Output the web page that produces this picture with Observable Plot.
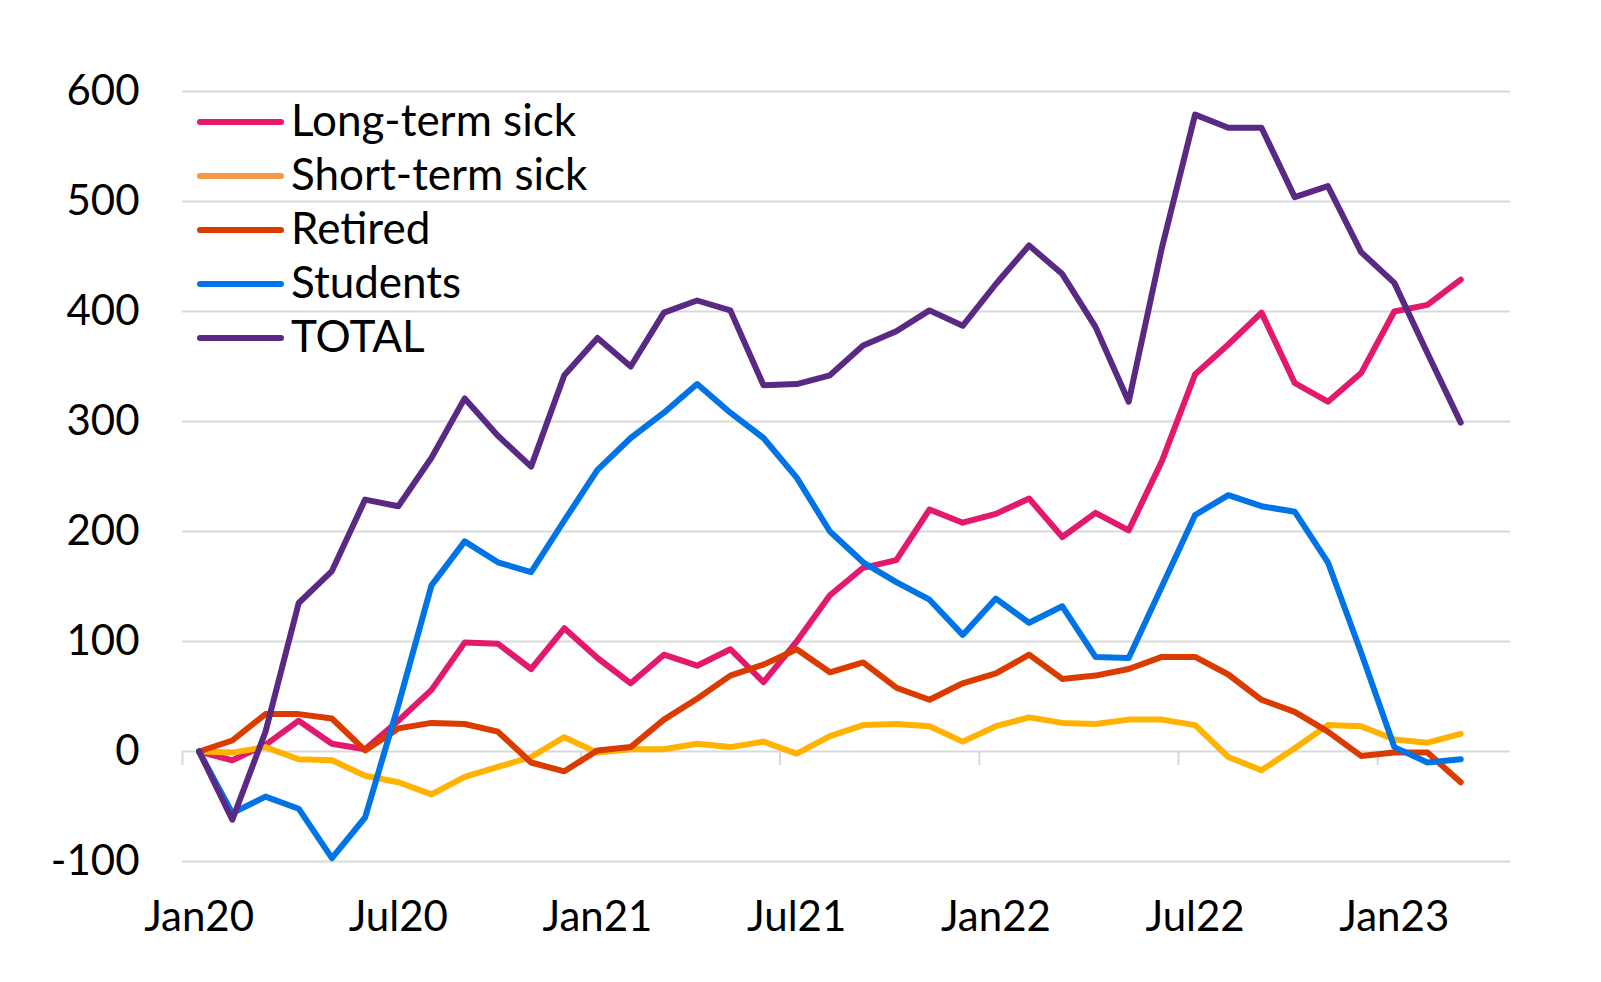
<!DOCTYPE html>
<html>
<head>
<meta charset="utf-8">
<script src="https://cdn.jsdelivr.net/npm/d3@7"></script>
<script src="https://cdn.jsdelivr.net/npm/@observablehq/plot@0.6"></script>
<style>
  body { margin: 0; background: #fff; }
  #wrap { position: relative; width: 1601px; height: 982px; font-family: Lato, "Open Sans", sans-serif; }
  #legend { position: absolute; left: 197px; top: 95px; }
  .item { display: flex; align-items: center; height: 54px; }
  .sw { width: 87px; height: 6px; border-radius: 3px; }
  .lbl { margin-left: 7px; font-size: 44px; color: #000; line-height: 1; position: relative; top: -3px; }
</style>
</head>
<body>
<div id="wrap"><div id="legend"></div></div>
<script>
// Categories (monthly, Jan20 .. Mar23)
const months = [
  "Jan20","Feb20","Mar20","Apr20","May20","Jun20","Jul20","Aug20","Sep20","Oct20","Nov20","Dec20",
  "Jan21","Feb21","Mar21","Apr21","May21","Jun21","Jul21","Aug21","Sep21","Oct21","Nov21","Dec21",
  "Jan22","Feb22","Mar22","Apr22","May22","Jun22","Jul22","Aug22","Sep22","Oct22","Nov22","Dec22",
  "Jan23","Feb23","Mar23"
];
const tickLabels = ["Jan20","Jul20","Jan21","Jul21","Jan22","Jul22","Jan23"];
const yTicks = [-100, 0, 100, 200, 300, 400, 500, 600];

const seriesNames = ["Long-term sick", "Short-term sick", "Retired", "Students", "TOTAL"];
const lineColors = ["#e2196c", "#ffb300", "#da3c00", "#0073e6", "#5a2983"];
const legendColors = ["#e2196c", "#f79646", "#da3c00", "#0073e6", "#5a2983"];

const longTermSick = [0, -8, 6, 28, 7, 2, 28, 56, 99, 98, 75, 112, 85, 62, 88, 78, 93, 63, 100, 142, 167, 174, 220, 208, 216, 230, 195, 217, 201, 264, 343, 370, 399, 335, 318, 344, 400, 406, 429];
const shortTermSick = [0, -1, 4, -7, -8, -22, -28, -39, -23, -14, -5, 13, -1, 2, 2, 7, 4, 9, -2, 14, 24, 25, 23, 9, 23, 31, 26, 25, 29, 29, 24, -5, -17, 3, 24, 23, 11, 8, 16];
const retired = [0, 10, 34, 34, 30, 1, 21, 26, 25, 18, -10, -18, 1, 4, 29, 48, 69, 79, 93, 72, 81, 58, 47, 62, 71, 88, 66, 69, 75, 86, 86, 70, 47, 36, 18, -4, -1, -1, -28];
const students = [0, -56, -41, -52, -97, -60, 42, 151, 191, 172, 163, 210, 256, 285, 308, 334, 308, 285, 249, 200, 172, 154, 138, 106, 139, 117, 132, 86, 85, 150, 215, 233, 223, 218, 172, 90, 4, -10, -7];
const total = [0, -62, 18, 135, 164, 229, 223, 267, 321, 287, 259, 342, 376, 350, 399, 410, 401, 333, 334, 342, 369, 382, 401, 387, 425, 460, 434, 386, 318, 458, 579, 567, 567, 504, 514, 454, 426, 362, 299];

const seriesValues = [longTermSick, shortTermSick, retired, students, total];
const rows = seriesValues.flatMap((vals, s) => vals.map((v, i) => ({i, month: months[i], series: seriesNames[s], value: v})));

const tickPositions = tickLabels.map(l => months.indexOf(l));
const tickMarks = tickPositions.map(p => p - 0.5);

const chart = Plot.plot({
  width: 1601,
  height: 982,
  marginLeft: 182,
  marginRight: 91,
  marginTop: 91,
  marginBottom: 121,
  style: {fontFamily: "Lato, 'Open Sans', sans-serif", fontSize: "42px", color: "#000", background: "#fff"},
  x: {type: "linear", domain: [-0.5, months.length + 0.5]},
  y: {domain: [-100, 600]},
  color: {domain: seriesNames, range: lineColors},
  marks: [
    Plot.gridY(yTicks, {stroke: "#d9d9d9", strokeOpacity: 1, strokeWidth: 2}),
    Plot.ruleX(tickMarks, {x: d => d, y1: 0, y2: 0, insetBottom: -14, stroke: "#d9d9d9", strokeWidth: 2}),
    Plot.axisY(yTicks, {tickSize: 0, tickPadding: 43, label: null, fill: "#000", tickFormat: d => String(d)}),
    Plot.axisX(tickPositions, {tickSize: 0, tickPadding: 40, label: null, fill: "#000", tickFormat: d => months[d]}),
    Plot.line(rows, {x: "i", y: "value", z: "series", stroke: "series", strokeWidth: 6, strokeLinejoin: "round", strokeLinecap: "round"})
  ]
});
document.getElementById("wrap").appendChild(chart);

const legend = document.getElementById("legend");
seriesNames.forEach((name, k) => {
  const item = document.createElement("div");
  item.className = "item";
  const sw = document.createElement("div");
  sw.className = "sw";
  sw.style.background = legendColors[k];
  const lbl = document.createElement("span");
  lbl.className = "lbl";
  lbl.textContent = name;
  item.appendChild(sw);
  item.appendChild(lbl);
  legend.appendChild(item);
});
legend.style.zIndex = 2;
</script>
</body>
</html>
